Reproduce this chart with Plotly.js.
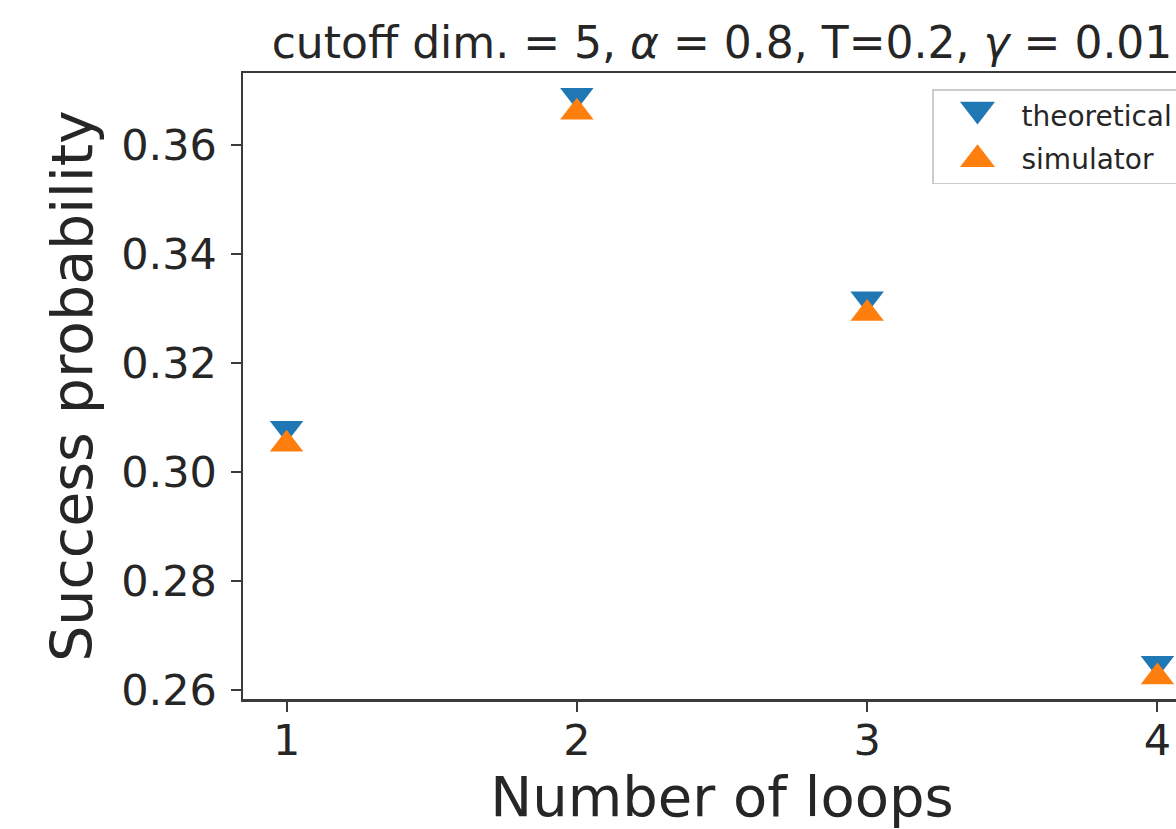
<!DOCTYPE html>
<html>
<head>
<meta charset="utf-8">
<script src="https://cdn.plot.ly/plotly-3.0.1.min.js"></script>
<style>
  html, body { margin: 0; padding: 0; overflow: hidden; background: #ffffff; width: 1176px; height: 829px; }
  #chart { width: 1230px; height: 829px; }
</style>
</head>
<body>
<div id="chart"></div>
<script>
// ---- data ----
const loops = [1, 2, 3, 4];
const theoretical = [0.3068, 0.3679, 0.3306, 0.2637];
const simulator = [0.3063, 0.3672, 0.3303, 0.2636];
const seriesNames = ['theoretical', 'simulator'];
const xTickVals = [1, 2, 3, 4];
const xTickText = ['1', '2', '3', '4'];
const yTickVals = [0.26, 0.28, 0.30, 0.32, 0.34, 0.36];
const yTickText = ['0.26', '0.28', '0.30', '0.32', '0.34', '0.36'];
const titleText = 'cutoff dim. = 5, <i>α</i> = 0.8, T=0.2, <i>γ</i> = 0.01';
const xTitle = 'Number of loops';
const yTitle = 'Success probability';

const FONT = 'DejaVu Sans, Verdana, sans-serif';
const INK = '#262626';
const AXIS = '#3a3a3a';
const MS = 29;
const OFF = 6.6; // recentre plotly's triangle on its data point

const traces = [
  {
    x: loops, y: theoretical, name: seriesNames[0], type: 'scatter', mode: 'markers',
    legendgroup: 'g1',
    marker: { symbol: 'triangle-up', angle: 180, standoff: OFF, size: MS, color: '#1f77b4', line: { width: 0 } }
  },
  {
    x: loops, y: simulator, name: seriesNames[1], type: 'scatter', mode: 'markers',
    legendgroup: 'g2',
    marker: { symbol: 'triangle-up', angle: 0, standoff: OFF, size: MS, color: '#ff7f0e', line: { width: 0 } }
  }
];

const layout = {
  width: 1230, height: 829,
  margin: { l: 243, r: 29, t: 73, b: 130, pad: 0 },
  paper_bgcolor: '#ffffff', plot_bgcolor: '#ffffff',
  font: { family: FONT, color: INK },
  title: {
    text: titleText,
    font: { family: FONT, size: 44, color: INK },
    x: 0.5, xref: 'paper', xanchor: 'center',
    y: 1 - 43 / 829, yref: 'container', yanchor: 'middle'
  },
  xaxis: {
    range: [0.85, 4.15],
    tickmode: 'array', tickvals: xTickVals, ticktext: xTickText,
    ticks: 'outside', ticklen: 10, tickwidth: 2, tickcolor: AXIS,
    tickfont: { family: FONT, size: 43, color: INK },
    ticklabelstandoff: -8,
    showgrid: false, zeroline: false,
    showline: true, linecolor: AXIS, linewidth: 2.5, mirror: true,
    title: { text: xTitle, font: { family: FONT, size: 56, color: INK }, standoff: 13 }
  },
  yaxis: {
    range: [0.25835, 0.37321],
    tickmode: 'array', tickvals: yTickVals, ticktext: yTickText,
    ticks: 'outside', ticklen: 10, tickwidth: 2, tickcolor: AXIS,
    tickfont: { family: FONT, size: 43, color: INK },
    ticklabelstandoff: 5,
    showgrid: false, zeroline: false,
    showline: true, linecolor: AXIS, linewidth: 2.5, mirror: true,
    title: { text: yTitle, font: { family: FONT, size: 57, color: INK }, standoff: 10 }
  },
  showlegend: true,
  legend: {
    x: (932 - 243) / 958, xanchor: 'left',
    y: (699 - 89) / 626, yanchor: 'top',
    bgcolor: 'rgba(255,255,255,0.85)', bordercolor: '#cccccc', borderwidth: 1.5,
    font: { family: FONT, size: 28, color: INK },
    itemwidth: 78,
    tracegroupgap: 3
  }
};

Plotly.newPlot('chart', traces, layout, { staticPlot: true, displayModeBar: false }).then(function (gd) {
  // enlarge the legend symbols to the plotted marker size, centred on their slot
  gd.querySelectorAll('.legend .legendpoints path').forEach(function (p) {
    const bb = p.getBBox();
    const cx = bb.x + bb.width / 2;
    const cy = bb.y + bb.height / 2;
    const t = p.getAttribute('transform') || '';
    p.setAttribute('transform', t + ' translate(0,-2) scale(1.9) translate(' + (-cx) + ',' + (-cy) + ')');
  });
});
</script>
</body>
</html>
